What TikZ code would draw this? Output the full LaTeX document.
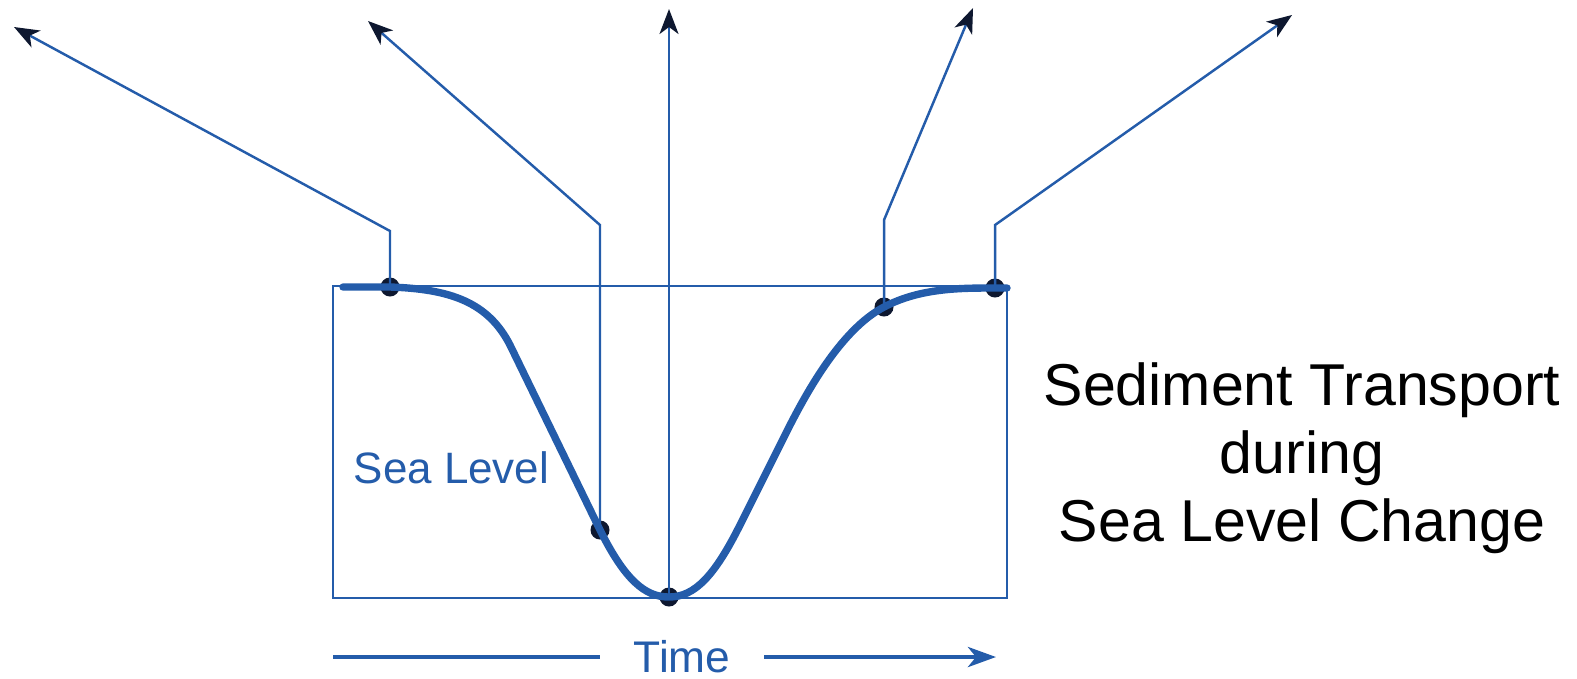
\documentclass[tikz,border=0pt]{standalone}
\usepackage{fontspec}
\setmainfont{Liberation Sans}
\usetikzlibrary{arrows.meta}
\definecolor{slblue}{RGB}{36,92,170}
\definecolor{dotnavy}{RGB}{14,24,48}
\begin{document}
\begin{tikzpicture}[x=0.01cm,y=-0.01cm,
  thinline/.style={draw=slblue,line width=0.7pt},
  tiparrow/.style={-{Stealth[length=0.25cm,width=0.19cm,inset=0.07cm,color=dotnavy]}},
  timearrow/.style={draw=slblue,line width=1.3pt},
  sldot/.style={circle,fill=dotnavy,inner sep=0pt,minimum size=0.19cm},
  slcurve/.style={draw=slblue,line width=2.1pt,line cap=round,line join=round}]
\useasboundingbox (0,0) rectangle (1577,678);

% frame
\draw[thinline] (333,286) rectangle (1007,598);

% dots
\node[sldot] (p1) at (390,287) {};
\node[sldot] (p2) at (600,530) {};
\node[sldot] (p3) at (669,597) {};
\node[sldot] (p4) at (884,307) {};
\node[sldot] (p5) at (995,288) {};

% bends and tips
\coordinate (b1) at (390,231);
\coordinate (t1) at (14,27);
\coordinate (b2) at (600,225);
\coordinate (t2) at (368,21);
\coordinate (t3) at (669,9);
\coordinate (b4) at (884,220);
\coordinate (t4) at (973,8);
\coordinate (b5) at (995,225);
\coordinate (t5) at (1292,15);

\draw[thinline,tiparrow] (p1.center) -- (b1) -- (t1);
\draw[thinline,tiparrow] (p2.center) -- (b2) -- (t2);
\draw[thinline,tiparrow] (p3.center) -- (t3);
\draw[thinline,tiparrow] (p4.center) -- (b4) -- (t4);
\draw[thinline,tiparrow] (p5.center) -- (b5) -- (t5);

% sea level curve
\coordinate (c0) at (343,287);
\coordinate (c9) at (1007,288);
\draw[slcurve] (c0) -- (p1.center)
  .. controls (450,289) and (488,302) .. (510,345)
  -- (p2.center)
  .. controls (625,580) and (645,597) .. (p3.center)
  .. controls (695,597) and (715,575) .. (740,525)
  -- (785,435)
  .. controls (805,395) and (840,330) .. (p4.center)
  .. controls (920,288) and (960,288) .. (p5.center)
  -- (c9);

% labels
\node[anchor=base west,text=slblue,font=\fontsize{12.5pt}{14pt}\selectfont,inner sep=0pt] (sl) at (353,483) {Sea Level};

\node[text=slblue,font=\fontsize{12.6pt}{14pt}\selectfont,inner xsep=0.33cm,inner ysep=0pt] (time) at (682,657) {Time};
\coordinate (ts) at (333,657);
\coordinate (te) at (996,657);
\draw[timearrow] (ts) -- (time.west);
\draw[timearrow,-{Stealth[length=0.28cm,width=0.2cm,inset=0.08cm,color=slblue]}] (time.east) -- (te);

\node[align=center,font=\fontsize{16.8pt}{19.3pt}\selectfont,inner sep=0pt] (title) at (1302,458)
  {Sediment Transport\\during\\Sea Level Change};
\end{tikzpicture}
\end{document}
